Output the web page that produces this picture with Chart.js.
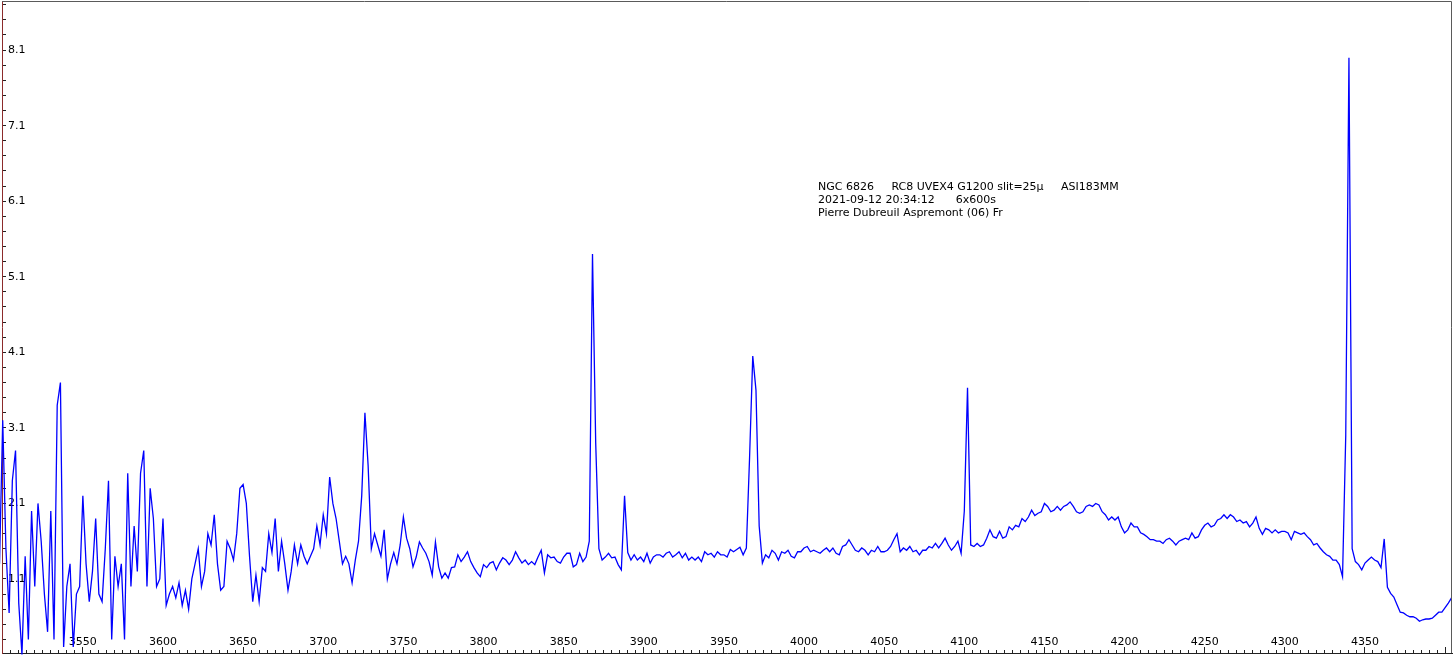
<!DOCTYPE html>
<html>
<head>
<meta charset="utf-8">
<title>NGC 6826</title>
<script src="https://cdn.jsdelivr.net/npm/chart.js@4.4.1/dist/chart.umd.min.js"></script>
<style>
  html, body { margin: 0; padding: 0; background: #fff; overflow: hidden; }
  canvas { display: block; }
</style>
</head>
<body>
<canvas id="grafico" width="1453" height="655"></canvas>
<script>
// spectrum sampled every 2 A starting at 3498 A
const startWavelength = 3498;
const stepWavelength = 2;

const flux = [
    1.3, 3.2, 1.5, 0.65, 2.4, 2.8, 0.78, 0.1, 1.4, 0.3,
    2.0, 1.0, 2.1, 1.6, 0.9, 0.4, 2.0, 0.3, 3.4, 3.7,
    0.2, 1.0, 1.3, 0.2, 0.9, 1.0, 2.2, 1.3, 0.8, 1.2,
    1.9, 0.9, 0.8, 1.5, 2.4, 0.3, 1.4, 1.0, 1.3, 0.3,
    2.5, 1.0, 1.8, 1.2, 2.5, 2.8, 1.0, 2.3, 1.9, 1.0,
    1.1, 1.9, 0.75, 0.9, 1.0, 0.85, 1.05, 0.75, 0.95, 0.7,
    1.1, 1.3, 1.5, 1.0, 1.2, 1.7, 1.55, 1.95, 1.3, 0.95,
    1.0, 1.6, 1.5, 1.35, 1.7, 2.3, 2.35, 2.1, 1.4, 0.8,
    1.15, 0.8, 1.25, 1.2, 1.7, 1.45, 1.9, 1.2, 1.6, 1.3,
    0.95, 1.2, 1.55, 1.3, 1.55, 1.4, 1.3, 1.4, 1.5, 1.8,
    1.55, 1.95, 1.7, 2.45, 2.1, 1.9, 1.6, 1.3, 1.4, 1.3,
    1.05, 1.35, 1.6, 2.2, 3.3, 2.6, 1.5, 1.7, 1.55, 1.4,
    1.75, 1.1, 1.3, 1.45, 1.3, 1.55, 1.92, 1.64, 1.5, 1.26,
    1.39, 1.59, 1.51, 1.44, 1.33, 1.15, 1.59, 1.26, 1.11, 1.18,
    1.11, 1.25, 1.26, 1.42, 1.33, 1.39, 1.46, 1.33, 1.25, 1.18,
    1.13, 1.29, 1.25, 1.31, 1.33, 1.22, 1.31, 1.38, 1.35, 1.29,
    1.35, 1.46, 1.38, 1.31, 1.35, 1.29, 1.33, 1.29, 1.39, 1.48,
    1.18, 1.42, 1.38, 1.39, 1.33, 1.31, 1.39, 1.44, 1.44, 1.26,
    1.29, 1.44, 1.33, 1.39, 1.6, 5.4, 2.9, 1.5, 1.35, 1.39,
    1.44, 1.38, 1.39, 1.29, 1.22, 2.2, 1.45, 1.35, 1.42, 1.35,
    1.39, 1.33, 1.44, 1.31, 1.39, 1.42, 1.42, 1.39, 1.44, 1.46,
    1.39, 1.42, 1.46, 1.38, 1.44, 1.35, 1.39, 1.35, 1.39, 1.33,
    1.46, 1.42, 1.44, 1.39, 1.46, 1.42, 1.42, 1.39, 1.49, 1.46,
    1.49, 1.52, 1.42, 1.51, 2.7, 4.05, 3.6, 1.8, 1.31, 1.42,
    1.38, 1.48, 1.44, 1.35, 1.46, 1.44, 1.48, 1.40, 1.38, 1.46,
    1.46, 1.51, 1.53, 1.46, 1.48, 1.46, 1.44, 1.48, 1.51, 1.46,
    1.51, 1.44, 1.42, 1.53, 1.55, 1.62, 1.55, 1.48, 1.46, 1.51,
    1.48, 1.42, 1.48, 1.46, 1.53, 1.46, 1.46, 1.48, 1.53, 1.62,
    1.7, 1.46, 1.51, 1.48, 1.53, 1.46, 1.48, 1.42, 1.48, 1.48,
    1.53, 1.51, 1.57, 1.51, 1.57, 1.64, 1.55, 1.48, 1.53, 1.60,
    1.44, 2.0, 3.63, 1.55, 1.53, 1.57, 1.53, 1.55, 1.64, 1.75,
    1.66, 1.64, 1.73, 1.64, 1.66, 1.79, 1.75, 1.81, 1.79, 1.90,
    1.86, 1.92, 2.01, 1.94, 1.97, 1.99, 2.10, 2.06, 1.99, 2.01,
    2.06, 2.01, 2.06, 2.08, 2.12, 2.06, 1.99, 1.97, 1.99, 2.06,
    2.08, 2.06, 2.10, 2.08, 1.99, 1.95, 1.88, 1.92, 1.88, 1.92,
    1.79, 1.71, 1.75, 1.84, 1.79, 1.79, 1.71, 1.69, 1.66, 1.62,
    1.62, 1.60, 1.60, 1.57, 1.62, 1.64, 1.60, 1.55, 1.60, 1.62,
    1.64, 1.62, 1.71, 1.64, 1.66, 1.75, 1.81, 1.84, 1.79, 1.81,
    1.88, 1.90, 1.95, 1.90, 1.95, 1.92, 1.86, 1.88, 1.84, 1.86,
    1.79, 1.84, 1.92, 1.77, 1.69, 1.77, 1.75, 1.71, 1.75, 1.71,
    1.73, 1.73, 1.71, 1.62, 1.73, 1.71, 1.69, 1.71, 1.66, 1.62,
    1.55, 1.57, 1.51, 1.46, 1.42, 1.40, 1.35, 1.35, 1.29, 1.13,
    3.0, 8.0, 1.5, 1.33, 1.29, 1.22, 1.31, 1.35, 1.39, 1.35,
    1.33, 1.25, 1.63, 0.99, 0.91, 0.86, 0.76, 0.66, 0.65, 0.62,
    0.60, 0.60, 0.58, 0.54, 0.56, 0.57, 0.57, 0.58, 0.62, 0.66,
    0.66, 0.72, 0.78, 0.85
];

const xLabels = [3550, 3600, 3650, 3700, 3750, 3800, 3850, 3900, 3950,
    4000, 4050, 4100, 4150, 4200, 4250, 4300, 4350];
const yLabels = [1.1, 2.1, 3.1, 4.1, 5.1, 6.1, 7.1, 8.1];

const noteLines = [
    "NGC 6826     RC8 UVEX4 G1200 slit=25µ     ASI183MM",
    "2021-09-12 20:34:12      6x600s",
    "Pierre Dubreuil Aspremont (06) Fr"
];
const noteWavelength = 4008.7;
const noteFlux = 6.29;

const xMin = 3499.55, xMax = 4404.3;
const yMin = 0.12, yMax = 8.75;

// minor ticks: 5 A on x, 0.2 on y
const xTicks = [];
for (let w = 3500; w <= 4400; w += 5) xTicks.push(w);
const yTicks = [];
for (let v = 3; v <= 87; v += 2) yTicks.push(v / 10);

const wavelengths = flux.map((f, i) => startWavelength + i * stepWavelength);

const fonte = { family: "DejaVu Sans", size: 11 };

const moldura = {
    id: 'moldura',
    afterDraw(chart) {
        const { ctx, chartArea } = chart;
        ctx.save();
        ctx.strokeStyle = '#5a5a5a';
        ctx.lineWidth = 1;
        ctx.beginPath();
        ctx.moveTo(chartArea.left, chartArea.top + 0.5);
        ctx.lineTo(chartArea.right - 0.5, chartArea.top + 0.5);
        ctx.lineTo(chartArea.right - 0.5, chartArea.bottom);
        ctx.stroke();
        ctx.restore();
    }
};

const nota = {
    id: 'nota',
    afterDatasetsDraw(chart) {
        const { ctx, scales } = chart;
        const left = scales.x.getPixelForValue(noteWavelength);
        const top = scales.y.getPixelForValue(noteFlux);
        ctx.save();
        ctx.font = '11px "DejaVu Sans"';
        ctx.fillStyle = '#000';
        ctx.textBaseline = 'middle';
        noteLines.forEach((linha, i) => ctx.fillText(linha, left, top + i * 13));
        ctx.restore();
    }
};

const grafico = document.getElementById("grafico");

new Chart(grafico, {
    type: 'line',
    data: {
        datasets: [{
            label: 'NGC 6826',
            data: flux.map((f, i) => ({ x: wavelengths[i], y: f })),
            borderColor: '#0000ff',
            borderWidth: 1.3,
            pointRadius: 0,
            tension: 0,
            fill: false,
            clip: { left: 3, top: 1, right: 1, bottom: 3 }
        }]
    },
    options: {
        responsive: false,
        animation: false,
        devicePixelRatio: 1,
        layout: { padding: { top: 1, right: 1, bottom: 0, left: 0 } },
        plugins: {
            legend: { display: false },
            tooltip: { enabled: false }
        },
        scales: {
            x: {
                type: 'linear',
                position: 'bottom',
                min: xMin,
                max: xMax,
                afterBuildTicks: (scale) => { scale.ticks = xTicks.map(v => ({ value: v })); },
                afterFit: (scale) => { scale.height = 2; scale.paddingLeft = 0; scale.paddingRight = 0; },
                ticks: {
                    autoSkip: false,
                    maxRotation: 0,
                    minRotation: 0,
                    mirror: true,
                    padding: 4,
                    color: '#000',
                    font: fonte,
                    callback: (value) => xLabels.includes(value) ? String(value) : ''
                },
                grid: {
                    drawOnChartArea: false,
                    drawTicks: true,
                    tickLength: -6,
                    tickColor: '#222',
                    tickWidth: 1,
                    tickBorderDash: (ctx) => (ctx.tick && ctx.tick.value % 50 === 0) ? [] : [4, 30]
                },
                border: { display: true, color: '#222', width: 1 }
            },
            y: {
                type: 'linear',
                position: 'left',
                min: yMin,
                max: yMax,
                afterBuildTicks: (scale) => { scale.ticks = yTicks.map(v => ({ value: v })); },
                afterFit: (scale) => { scale.width = 2; scale.paddingTop = 0; scale.paddingBottom = 0; },
                ticks: {
                    autoSkip: false,
                    mirror: true,
                    padding: 6,
                    color: '#000',
                    font: fonte,
                    callback: (value) => yLabels.includes(value) ? value.toFixed(1) : ''
                },
                grid: {
                    drawOnChartArea: false,
                    drawTicks: true,
                    tickLength: -4,
                    tickColor: '#222',
                    tickWidth: 1
                },
                border: { display: true, color: '#8c2b2b', width: 1 }
            }
        }
    },
    plugins: [moldura, nota]
});
</script>
</body>
</html>
